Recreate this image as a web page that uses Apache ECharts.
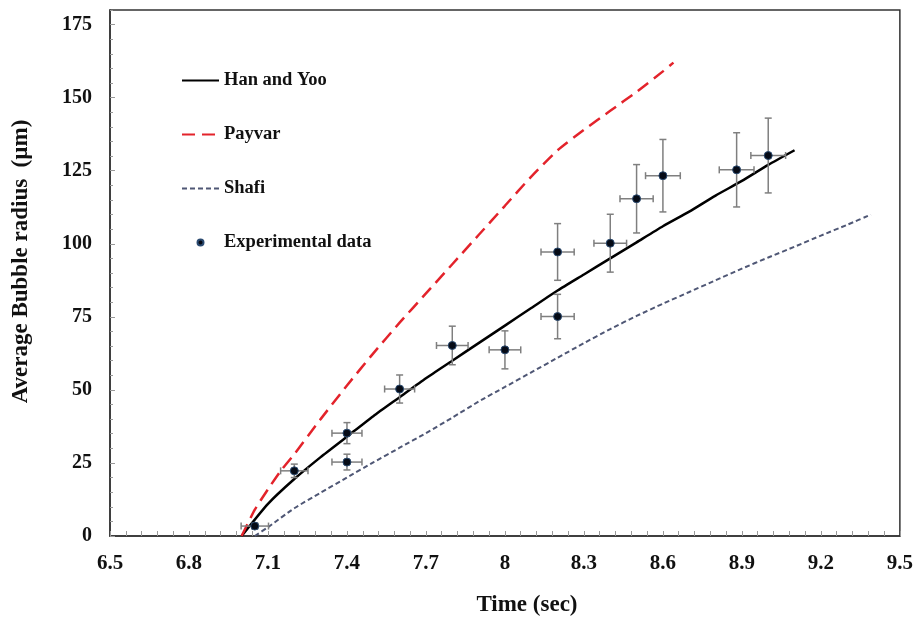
<!DOCTYPE html>
<html>
<head>
<meta charset="utf-8">
<script src="https://cdn.jsdelivr.net/npm/echarts@6/dist/echarts.min.js"></script>
<style>
html,body{margin:0;padding:0;background:#fff;}
#chart{width:916px;height:626px;}
</style>
</head>
<body>
<div id="chart"></div>
<script>
// ---- data ----
const X0 = 6.5; // x axis origin (sec); axis drawn in offset units so ticks start at 6.5
const xTickStep = 0.3;

const hanT = [7.0, 7.1, 7.2, 7.3, 7.4, 7.5, 7.6, 7.7, 7.8, 7.9, 8.0, 8.1, 8.2, 8.3, 8.4, 8.5, 8.6, 8.7, 8.8, 8.9, 9.0, 9.1];
const hanV = [0, 11, 19.5, 27, 34, 41, 47.5, 54, 60, 66, 72, 78, 84, 89.5, 95, 100.5, 106, 111, 116.5, 121.5, 127, 132];

const payvarT = [7.0, 7.05, 7.1, 7.15, 7.2, 7.3, 7.4, 7.5, 7.6, 7.7, 7.8, 7.9, 8.0, 8.1, 8.2, 8.3, 8.4, 8.5, 8.6, 8.64];
const payvarV = [0, 9, 16, 22.5, 28, 40, 51.5, 62.5, 73, 83, 93, 103, 113, 123, 132, 139, 145.5, 152, 159, 162];

const shafiT = [7.05, 7.1, 7.2, 7.3, 7.4, 7.5, 7.6, 7.7, 7.8, 7.9, 8.0, 8.1, 8.2, 8.3, 8.4, 8.5, 8.6, 8.7, 8.8, 8.9, 9.0, 9.1, 9.2, 9.3, 9.39];
const shafiV = [0, 3, 9.5, 14.8, 20, 25.2, 30.2, 35.2, 40.5, 46, 51, 56, 61, 66, 70.8, 75.3, 79.5, 83.5, 87.5, 91.5, 95.3, 99, 102.8, 106.5, 110];

const expT    = [7.05, 7.2, 7.4, 7.4, 7.6, 7.8, 8.0, 8.2, 8.2, 8.4, 8.5, 8.6, 8.88, 9.0];
const expV    = [3.4, 22.3, 35.2, 25.3, 50.3, 65.2, 63.7, 75.1, 97.2, 100.2, 115.4, 123.3, 125.3, 130.2];
const expTErr = [0.052, 0.052, 0.057, 0.057, 0.057, 0.06, 0.06, 0.063, 0.063, 0.062, 0.063, 0.066, 0.066, 0.066];
const expVErr = [1, 2.3, 3.6, 2.7, 4.8, 6.6, 6.5, 7.6, 9.7, 9.9, 11.7, 12.4, 12.7, 12.8];

const seriesNames = ['Han and Yoo', 'Payvar', 'Shafi', 'Experimental data'];
const xTitle = 'Time (sec)';
const yTitle = 'Average Bubble radius  (µm)';

// ---- build ----
const pairs = (t, v) => t.map((x, i) => [x - X0, v[i]]);
const FONT = 'Liberation Serif';

const chart = echarts.init(document.getElementById('chart'), null, {renderer: 'canvas'});

const option = {
  animation: false,
  backgroundColor: '#ffffff',
  grid: {
    left: 110, right: 16, top: 10, bottom: 90,
    show: true, borderColor: '#333', borderWidth: 1.5, backgroundColor: 'transparent'
  },
  legend: {
    data: [
      {name: seriesNames[0], itemStyle: {opacity: 0}},
      {name: seriesNames[1], itemStyle: {opacity: 0}},
      {name: seriesNames[2], itemStyle: {opacity: 0}},
      {name: seriesNames[3]}
    ],
    orient: 'vertical',
    left: 176, top: 66,
    itemWidth: 37, itemHeight: 6,
    itemGap: 35,
    textStyle: {fontFamily: FONT, fontWeight: 'bold', fontSize: 18.5, color: '#111'}
  },
  xAxis: {
    type: 'value', min: 0, max: 3, interval: xTickStep,
    name: xTitle, nameLocation: 'middle', nameGap: 58,
    nameTextStyle: {fontFamily: FONT, fontWeight: 'bold', fontSize: 23, color: '#111', padding: [0, 0, 0, 44]},
    axisLine: {lineStyle: {color: '#333', width: 1.5}},
    axisTick: {inside: true, length: 5, lineStyle: {color: '#999'}},
    minorTick: {show: true, splitNumber: 5, length: 5, lineStyle: {color: '#999'}},
    splitLine: {show: false},
    axisLabel: {
      margin: 17, fontFamily: FONT, fontWeight: 'bold', fontSize: 21, color: '#111',
      formatter: v => String(+(v + X0).toFixed(1))
    }
  },
  yAxis: [{
    type: 'value', min: 0, max: 180, interval: 25, position: 'left',
    name: yTitle, nameLocation: 'middle', nameGap: 77, nameRotate: 90,
    nameTextStyle: {fontFamily: FONT, fontWeight: 'bold', fontSize: 23, color: '#111', padding: [0, 0, 0, 23]},
    axisLine: {lineStyle: {color: '#333', width: 1.5}},
    axisTick: {inside: true, length: 5, lineStyle: {color: '#999'}},
    splitLine: {show: false},
    axisLabel: {margin: 18, fontFamily: FONT, fontWeight: 'bold', fontSize: 20, color: '#111', showMaxLabel: false}
  }, {
    type: 'value', min: 0, max: 180, interval: 5, position: 'left', offset: 0,
    axisLine: {show: false},
    axisTick: {inside: true, length: 3, lineStyle: {color: '#999'}},
    axisLabel: {show: false},
    splitLine: {show: false}
  }],
  series: [
    {
      name: seriesNames[0], type: 'line', data: pairs(hanT, hanV), symbol: 'none', smooth: 0.2,
      lineStyle: {color: '#000', width: 2.5}, itemStyle: {color: '#000'}, z: 3
    },
    {
      name: seriesNames[1], type: 'line', data: pairs(payvarT, payvarV), symbol: 'none', smooth: 0.2,
      lineStyle: {color: '#e3232b', width: 2.5, type: [13, 7]}, itemStyle: {color: '#e3232b'}, z: 3
    },
    {
      name: seriesNames[2], type: 'line', data: pairs(shafiT, shafiV), symbol: 'none', smooth: 0.2,
      lineStyle: {color: '#4f5775', width: 2, type: [5, 3]}, itemStyle: {color: '#4f5775'}, z: 3
    },
    {
      name: 'errorbars', type: 'custom', z: 4,
      data: expT.map((t, i) => [t - X0, expV[i], expTErr[i], expVErr[i]]),
      encode: {x: 0, y: 1},
      renderItem: function (params, api) {
        const x = api.value(0), y = api.value(1), xe = api.value(2), ye = api.value(3);
        const l = api.coord([x - xe, y]), r = api.coord([x + xe, y]);
        const t = api.coord([x, y + ye]), b = api.coord([x, y - ye]);
        const cap = 3.5;
        const style = {stroke: '#7f7f7f', lineWidth: 1.5};
        const ln = (x1, y1, x2, y2) => ({type: 'line', shape: {x1, y1, x2, y2}, style});
        return {
          type: 'group',
          children: [
            ln(l[0], l[1], r[0], r[1]),
            ln(l[0], l[1] - cap, l[0], l[1] + cap),
            ln(r[0], r[1] - cap, r[0], r[1] + cap),
            ln(t[0], t[1], b[0], b[1]),
            ln(t[0] - cap, t[1], t[0] + cap, t[1]),
            ln(b[0] - cap, b[1], b[0] + cap, b[1])
          ]
        };
      }
    },
    {
      name: seriesNames[3], type: 'scatter', z: 5,
      data: pairs(expT, expV), symbol: 'circle', symbolSize: 8,
      itemStyle: {color: '#060b16', borderColor: '#2a4a70', borderWidth: 1, opacity: 1}
    }
  ]
};
chart.setOption(option);
</script>
</body>
</html>
